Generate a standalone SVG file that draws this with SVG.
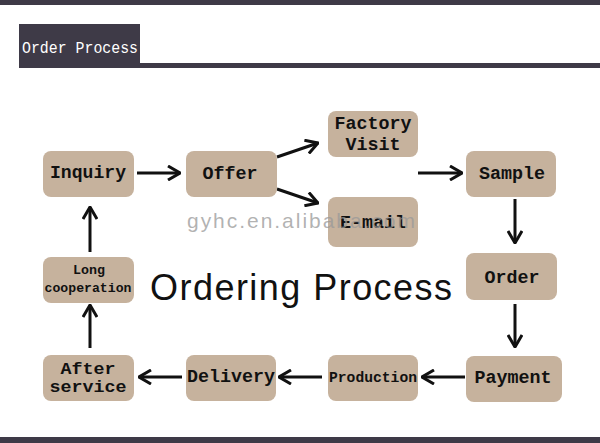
<svg xmlns="http://www.w3.org/2000/svg" width="600" height="443" viewBox="0 0 600 443">
<defs>
<style>
.node rect{fill:#c6b29d;}
.node text{font-family:"Liberation Mono","Courier New",monospace;font-weight:bold;fill:#111;text-anchor:middle;}
.conn path{stroke:#111;stroke-width:3;fill:none;}
</style>
<marker id="ah" viewBox="0 0 14 16" refX="13" refY="8" markerWidth="14" markerHeight="16" markerUnits="userSpaceOnUse" orient="auto">
<path d="M1,1 L13,8 L1,15" stroke="#111" stroke-width="3" fill="none"/>
</marker>
</defs>
<rect width="600" height="443" fill="#ffffff"/>
<rect x="0" y="0" width="600" height="5" fill="#3e3a47"/>
<rect x="0" y="437" width="600" height="6" fill="#3e3a47"/>
<g id="title">
<rect x="19" y="24" width="121" height="44" fill="#3e3a47"/>
<rect x="140" y="63" width="460" height="5" fill="#3e3a47"/>
<text x="22" y="53" font-family="Liberation Mono,monospace" font-size="17" fill="#ffffff" textLength="116" lengthAdjust="spacingAndGlyphs">Order Process</text>
</g>
<text x="150" y="300" font-family="Liberation Sans,Arial,sans-serif" font-size="36" fill="#111" textLength="302">Ordering Process</text>
<g class="conn">
<path d="M137,173 L180,173" marker-end="url(#ah)"/>
<path d="M277,157 L318,143" marker-end="url(#ah)"/>
<path d="M277,189 L318,203" marker-end="url(#ah)"/>
<path d="M418,173 L462,173" marker-end="url(#ah)"/>
<path d="M515,199 L515,243" marker-end="url(#ah)"/>
<path d="M515,304 L515,347" marker-end="url(#ah)"/>
<path d="M465,377 L422,377" marker-end="url(#ah)"/>
<path d="M322,377 L279,377" marker-end="url(#ah)"/>
<path d="M182,377 L139,377" marker-end="url(#ah)"/>
<path d="M90,348 L90,305" marker-end="url(#ah)"/>
<path d="M90,252 L90,207" marker-end="url(#ah)"/>
</g>
<g id="inquiry" class="node"><rect x="43" y="151" width="91" height="46" rx="8"/><text x="88" y="178" font-size="19" textLength="76" lengthAdjust="spacingAndGlyphs">Inquiry</text></g>
<g id="offer" class="node"><rect x="186" y="151" width="91" height="46" rx="8"/><text x="230" y="179" font-size="19" textLength="55" lengthAdjust="spacingAndGlyphs">Offer</text></g>
<g id="factory" class="node"><rect x="328" y="111" width="90" height="46" rx="8"/><text x="373" y="129" font-size="19" textLength="77" lengthAdjust="spacingAndGlyphs">Factory</text><text x="373" y="150" font-size="19" textLength="55" lengthAdjust="spacingAndGlyphs">Visit</text></g>
<g id="email" class="node"><rect x="328" y="197" width="90" height="50" rx="8"/><text x="373" y="228" font-size="19" textLength="66" lengthAdjust="spacingAndGlyphs">E-mail</text></g>
<g id="sample" class="node"><rect x="466" y="151" width="90" height="46" rx="8"/><text x="512" y="179" font-size="19" textLength="66" lengthAdjust="spacingAndGlyphs">Sample</text></g>
<g id="order" class="node"><rect x="466" y="253" width="91" height="47" rx="8"/><text x="512" y="283" font-size="19" textLength="55" lengthAdjust="spacingAndGlyphs">Order</text></g>
<g id="payment" class="node"><rect x="466" y="356" width="96" height="46" rx="8"/><text x="513" y="383" font-size="19" textLength="77" lengthAdjust="spacingAndGlyphs">Payment</text></g>
<g id="production" class="node"><rect x="328" y="355" width="90" height="46" rx="8"/><text x="373" y="382" font-size="15" textLength="88" lengthAdjust="spacingAndGlyphs">Production</text></g>
<g id="delivery" class="node"><rect x="186" y="355" width="90" height="46" rx="8"/><text x="231" y="382" font-size="19" textLength="88" lengthAdjust="spacingAndGlyphs">Delivery</text></g>
<g id="after" class="node"><rect x="43" y="355" width="91" height="46" rx="8"/><text x="88" y="374" font-size="16" textLength="55" lengthAdjust="spacingAndGlyphs">After</text><text x="88" y="392" font-size="16" textLength="77" lengthAdjust="spacingAndGlyphs">service</text></g>
<g id="long" class="node"><rect x="43" y="257" width="91" height="46" rx="8"/><text x="89" y="274" font-size="13" textLength="32" lengthAdjust="spacingAndGlyphs">Long</text><text x="88" y="292" font-size="13" textLength="87" lengthAdjust="spacingAndGlyphs">cooperation</text></g>
<text x="187" y="228" font-family="Liberation Sans,Arial,sans-serif" font-size="21" fill="#999999" fill-opacity="0.75" textLength="228">gyhc.en.alibaba.com</text>
</svg>
